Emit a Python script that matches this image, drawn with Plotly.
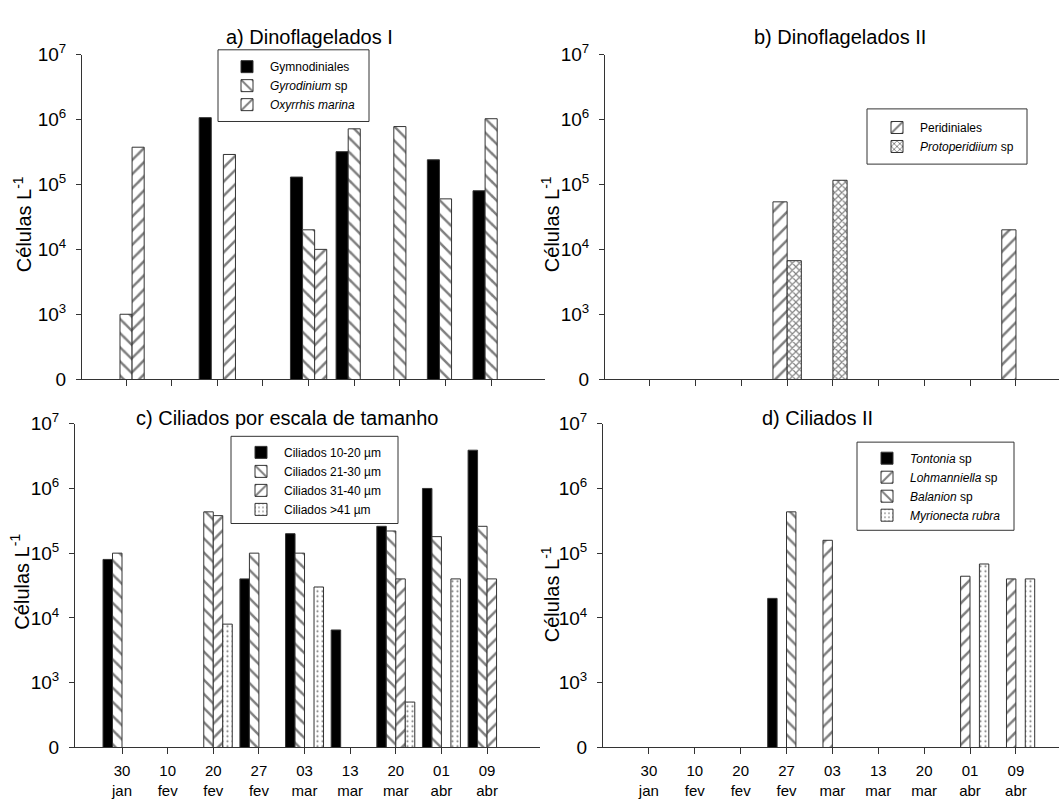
import plotly.graph_objects as go

# Sampling dates (shared by all four panels)
dates = ["30<br>jan", "10<br>fev", "20<br>fev", "27<br>fev", "03<br>mar",
         "13<br>mar", "20<br>mar", "01<br>abr", "09<br>abr"]

# a) Dinoflagelados I  (células L-1; None = not observed)
gymnodiniales = [None, None, 1.07e6, None, 1.3e5, 3.2e5, None, 2.4e5, 8e4]
gyrodinium = [1e3, None, None, None, 2e4, 7.2e5, 7.8e5, 6e4, 1.03e6]
oxyrrhis = [3.75e5, None, 2.9e5, None, 1e4, None, None, None, None]

# b) Dinoflagelados II
peridiniales = [None, None, None, 5.4e4, None, None, None, None, 2e4]
protoperidinium = [None, None, None, 6.7e3, 1.16e5, None, None, None, None]

# c) Ciliados por escala de tamanho
cil_10_20 = [8e4, None, None, 4e4, 2e5, 6.5e3, 2.6e5, 1e6, 3.9e6]
cil_21_30 = [1e5, None, 4.35e5, 1e5, 1e5, None, 2.2e5, 1.8e5, 2.6e5]
cil_31_40 = [None, None, 3.8e5, None, None, None, 4e4, None, 4e4]
cil_41 = [None, None, 8e3, None, 3e4, None, 5e2, 4e4, None]

# d) Ciliados II
tontonia = [None, None, None, 2e4, None, None, None, None, None]
lohmanniella = [None, None, None, None, 1.58e5, None, None, 4.4e4, 4e4]
balanion = [None, None, None, 4.35e5, None, None, None, None, None]
myrionecta = [None, None, None, None, None, None, None, 6.8e4, 4e4]

# y tick labels (the bottom of the log axis is labelled "0")
y_tickvals = [1e2, 1e3, 1e4, 1e5, 1e6, 1e7]
y_ticktext = ["0", "10<sup>3</sup>", "10<sup>4</sup>", "10<sup>5</sup>",
              "10<sup>6</sup>", "10<sup>7</sup>"]

W, H = 1059, 799
FONT = "Liberation Sans, Arial, sans-serif"
EDGE = "#333333"


def px_x(v):
    return v / W


def px_y(v):
    return 1 - v / H


STYLES = {
    "solid": dict(color="black"),
    "back": dict(color="white", pattern=dict(shape="\\", size=10, solidity=0.25,
                                             fgcolor="black", bgcolor="white")),
    "fwd": dict(color="white", pattern=dict(shape="/", size=10, solidity=0.25,
                                            fgcolor="black", bgcolor="white")),
    "dots": dict(color="white", pattern=dict(shape=".", size=5, solidity=0.15,
                                             fgcolor="black", bgcolor="white")),
    "zig": dict(color="white", pattern=dict(shape="x", size=5, solidity=0.4,
                                            fgcolor="black", bgcolor="white")),
}

fig = go.Figure()


def add_group(series, xa, ya, legend, width):
    n = len(series)
    for i, (name, vals, style) in enumerate(series):
        marker = dict(STYLES[style])
        marker["line"] = dict(color=EDGE, width=1)
        fig.add_trace(go.Bar(
            x=dates, y=vals, name=name, marker=marker,
            width=width, offset=(i - n / 2) * width,
            xaxis=xa, yaxis=ya, legend=legend,
        ))


add_group([("Gymnodiniales", gymnodiniales, "solid"),
           ("<i>Gyrodinium</i> sp", gyrodinium, "back"),
           ("<i>Oxyrrhis marina</i>", oxyrrhis, "fwd")],
          "x", "y", "legend", 0.265)
add_group([("Peridiniales", peridiniales, "fwd"),
           ("<i>Protoperidiium</i> sp", protoperidinium, "zig")],
          "x2", "y2", "legend2", 0.31)
add_group([("Ciliados 10-20 µm", cil_10_20, "solid"),
           ("Ciliados 21-30 µm", cil_21_30, "back"),
           ("Ciliados 31-40 µm", cil_31_40, "fwd"),
           ("Ciliados >41 µm", cil_41, "dots")],
          "x3", "y3", "legend3", 0.208)
add_group([("<i>Tontonia</i> sp", tontonia, "solid"),
           ("<i>Lohmanniella</i> sp", lohmanniella, "fwd"),
           ("<i>Balanion</i> sp", balanion, "back"),
           ("<i>Myrionecta rubra</i>", myrionecta, "dots")],
          "x4", "y4", "legend4", 0.205)

# panel geometry in pixels: (left, right, top, bottom, x-range, x labels)
panels = {
    "": (82, 545, 43, 378, [-0.965, 9.18], False),
    "2": (605, W, 43, 378, [-0.98, 8.94], False),
    "3": (75, 540, 424, 758, [-1.03, 9.16], True),
    "4": (603, W, 424, 758, [-1.0, 8.94], True),
}

layout = dict(
    width=W, height=H, margin=dict(l=0, r=0, t=0, b=0),
    paper_bgcolor="white", plot_bgcolor="white",
    barmode="overlay", showlegend=True,
    font=dict(family=FONT, color="black"),
)

for k, (l, r, t, b, xr, labels) in panels.items():
    layout["xaxis" + k] = dict(
        domain=[px_x(l), min(1.0, px_x(r))], range=xr,
        anchor="y" + k, type="category",
        showline=True, linecolor=EDGE, linewidth=1,
        ticks="outside", ticklen=6, tickcolor=EDGE,
        showticklabels=labels, tickfont=dict(size=15, family=FONT),
        ticklabelstandoff=4,
        showgrid=False, zeroline=False, fixedrange=True,
    )
    layout["yaxis" + k] = dict(
        domain=[px_y(b), px_y(t)], type="log", range=[2, 7],
        anchor="x" + k, tickvals=y_tickvals, ticktext=y_ticktext,
        showline=True, linecolor=EDGE, linewidth=1,
        ticks="outside", ticklen=5, tickcolor=EDGE,
        tickfont=dict(size=19, family=FONT), ticklabelstandoff=6,
        showgrid=False, zeroline=False, fixedrange=True,
    )

# legend frames (left, top, right, bottom) and where the entries sit inside
legend_frames = {
    "legend": ((218, 38, 369, 112), (224, 75)),
    "legend2": ((867, 99, 1027, 156), (874, 128)),
    "legend3": ((231, 437, 398, 527), (238, 483)),
    "legend4": ((857, 443, 1014, 534), (864, 489)),
}
shapes = []
for name, ((x0, y0, x1, y1), (lx, ly)) in legend_frames.items():
    shapes.append(dict(
        type="rect", xref="paper", yref="paper",
        x0=px_x(x0), x1=px_x(x1), y0=px_y(y1), y1=px_y(y0),
        fillcolor="white", line=dict(color=EDGE, width=1), layer="above",
    ))
    layout[name] = dict(
        x=px_x(lx), y=px_y(ly), xanchor="left", yanchor="middle",
        bgcolor="rgba(0,0,0,0)", borderwidth=0,
        font=dict(size=12, family=FONT), tracegroupgap=0,
        traceorder="normal", itemwidth=36,
    )
layout["shapes"] = shapes

annotations = []
titles = [("a) Dinoflagelados I", 309, 25), ("b) Dinoflagelados II", 840, 25),
          ("c) Ciliados por escala de tamanho", 287, 418),
          ("d) Ciliados II", 817, 418)]
for text, cx, cy in titles:
    annotations.append(dict(
        text=text, x=px_x(cx), y=px_y(cy), xref="paper", yref="paper",
        xanchor="center", yanchor="middle", showarrow=False,
        font=dict(size=20, family=FONT),
    ))
ytitles = [(22, 218), (550, 218), (20, 587), (550, 600)]
for cx, cy in ytitles:
    annotations.append(dict(
        text="Células L<sup>-1</sup>", x=px_x(cx), y=px_y(cy),
        xref="paper", yref="paper", xanchor="center", yanchor="middle",
        textangle=-90, showarrow=False, font=dict(size=20, family=FONT),
    ))
layout["annotations"] = annotations

fig.update_layout(**layout)
fig.write_html("out.html")
